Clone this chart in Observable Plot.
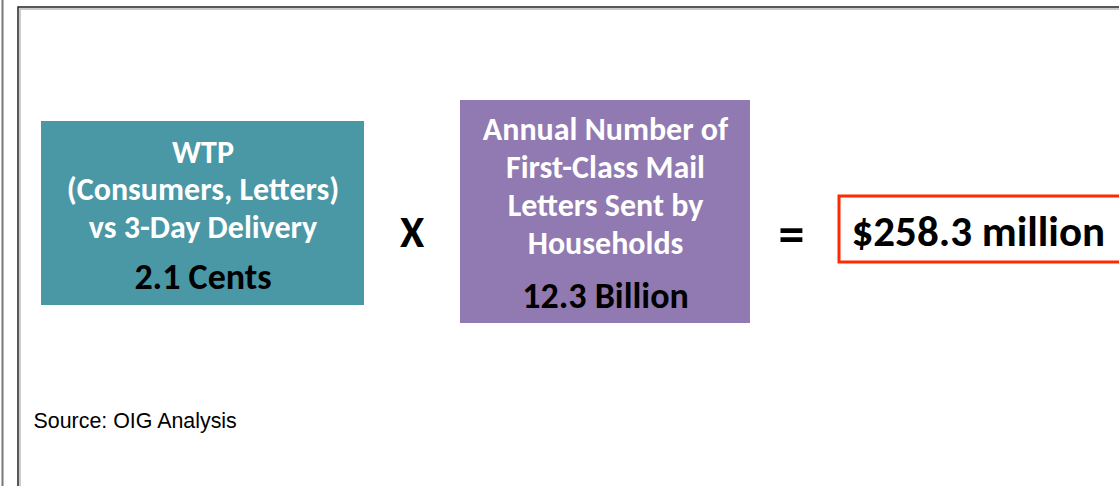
<!DOCTYPE html>
<html>
<head>
<meta charset="utf-8">
<script src="https://cdn.jsdelivr.net/npm/d3@7"></script>
<script src="https://cdn.jsdelivr.net/npm/@observablehq/plot@0.6"></script>
<style>
  html, body { margin: 0; padding: 0; background: #fff; }
  svg { display: block; }
</style>
</head>
<body>
<div id="chart"></div>
<script>
// ---- data ----
const factorLabels = [
  ["WTP", "(Consumers, Letters)", "vs 3-Day Delivery"],
  ["Annual Number of", "First-Class Mail", "Letters Sent by", "Households"]
];
const factorValues = ["2.1 Cents", "12.3 Billion"];
const operators = ["X", "="];
const resultLabel = "$258.3 million";
const sourceNote = "Source: OIG Analysis";

// ---- layout (pixel-unit scales) ----
const W = 1119, H = 486;
const layout = [
  {x1: 41, x2: 364, y1: 121, y2: 305, fill: "#4a97a6", labelY: 152, step: 37.5, valueY: 277},
  {x1: 460, x2: 750, y1: 100, y2: 323, fill: "#917ab1", labelY: 129, step: 38, valueY: 296}
];
const boxes = layout.map((b, i) => ({...b, value: factorValues[i], cx: (b.x1 + b.x2) / 2}));
const labelLines = boxes.flatMap((b, i) => factorLabels[i].map((t, j) => ({t, x: b.cx, y: b.labelY + j * b.step})));
const ops = [{x: 411.5, y: 232, t: operators[0], s: 44}, {x: 791, y: 235, t: operators[1], s: 52}];

const font = "Carlito, Lato, 'Open Sans', sans-serif";

const chart = Plot.plot({
  width: W, height: H,
  margin: 0,
  x: {domain: [0, W], axis: null},
  y: {domain: [H, 0], axis: null},
  style: {background: "#fff"},
  marks: [
    // outer frames
    Plot.ruleX([2], {y1: 0, y2: H, stroke: "#777", strokeWidth: 2}),
    Plot.rect([{x1: 19, x2: W + 10, y1: 8, y2: H + 10}], {x1: "x1", x2: "x2", y1: "y1", y2: "y2", fill: "none", stroke: "#bbb", strokeWidth: 1.5, dx: 1, dy: 1}),
    Plot.rect([{x1: 18, x2: W + 10, y1: 7, y2: H + 10}], {x1: "x1", x2: "x2", y1: "y1", y2: "y2", fill: "none", stroke: "#222", strokeWidth: 1.5}),
    // factor boxes
    Plot.rect(boxes, {x1: "x1", x2: "x2", y1: "y1", y2: "y2", fill: "fill"}),
    Plot.text(labelLines, {x: "x", y: "y", text: "t", fill: "#fff", fontSize: 32, fontWeight: "bold", fontFamily: font, lineAnchor: "middle", textAnchor: "middle"}),
    Plot.text(boxes, {x: "cx", y: "valueY", text: "value", fill: "#000", fontSize: 36, fontWeight: "bold", fontFamily: font, lineAnchor: "middle", textAnchor: "middle"}),
    // operators
    Plot.text(ops, {x: "x", y: "y", text: "t", fontSize: "s", fill: "#000", fontWeight: "bold", fontFamily: font, lineAnchor: "middle"}),
    // result box
    Plot.rect([{x1: 839, x2: W + 10, y1: 196, y2: 262}], {x1: "x1", x2: "x2", y1: "y1", y2: "y2", fill: "#fff", stroke: "#ff2a00", strokeWidth: 3}),
    Plot.text([resultLabel], {x: 851, y: 232, text: d => d, fill: "#000", fontSize: 43, fontWeight: "bold", fontFamily: font, textAnchor: "start", lineAnchor: "middle"}),
    // source
    Plot.text([sourceNote], {x: 33, y: 421, text: d => d, fill: "#000", fontSize: 21.4, fontFamily: "'Liberation Sans', Arial, sans-serif", textAnchor: "start", lineAnchor: "middle"})
  ]
});
document.getElementById("chart").append(chart);
</script>
</body>
</html>
